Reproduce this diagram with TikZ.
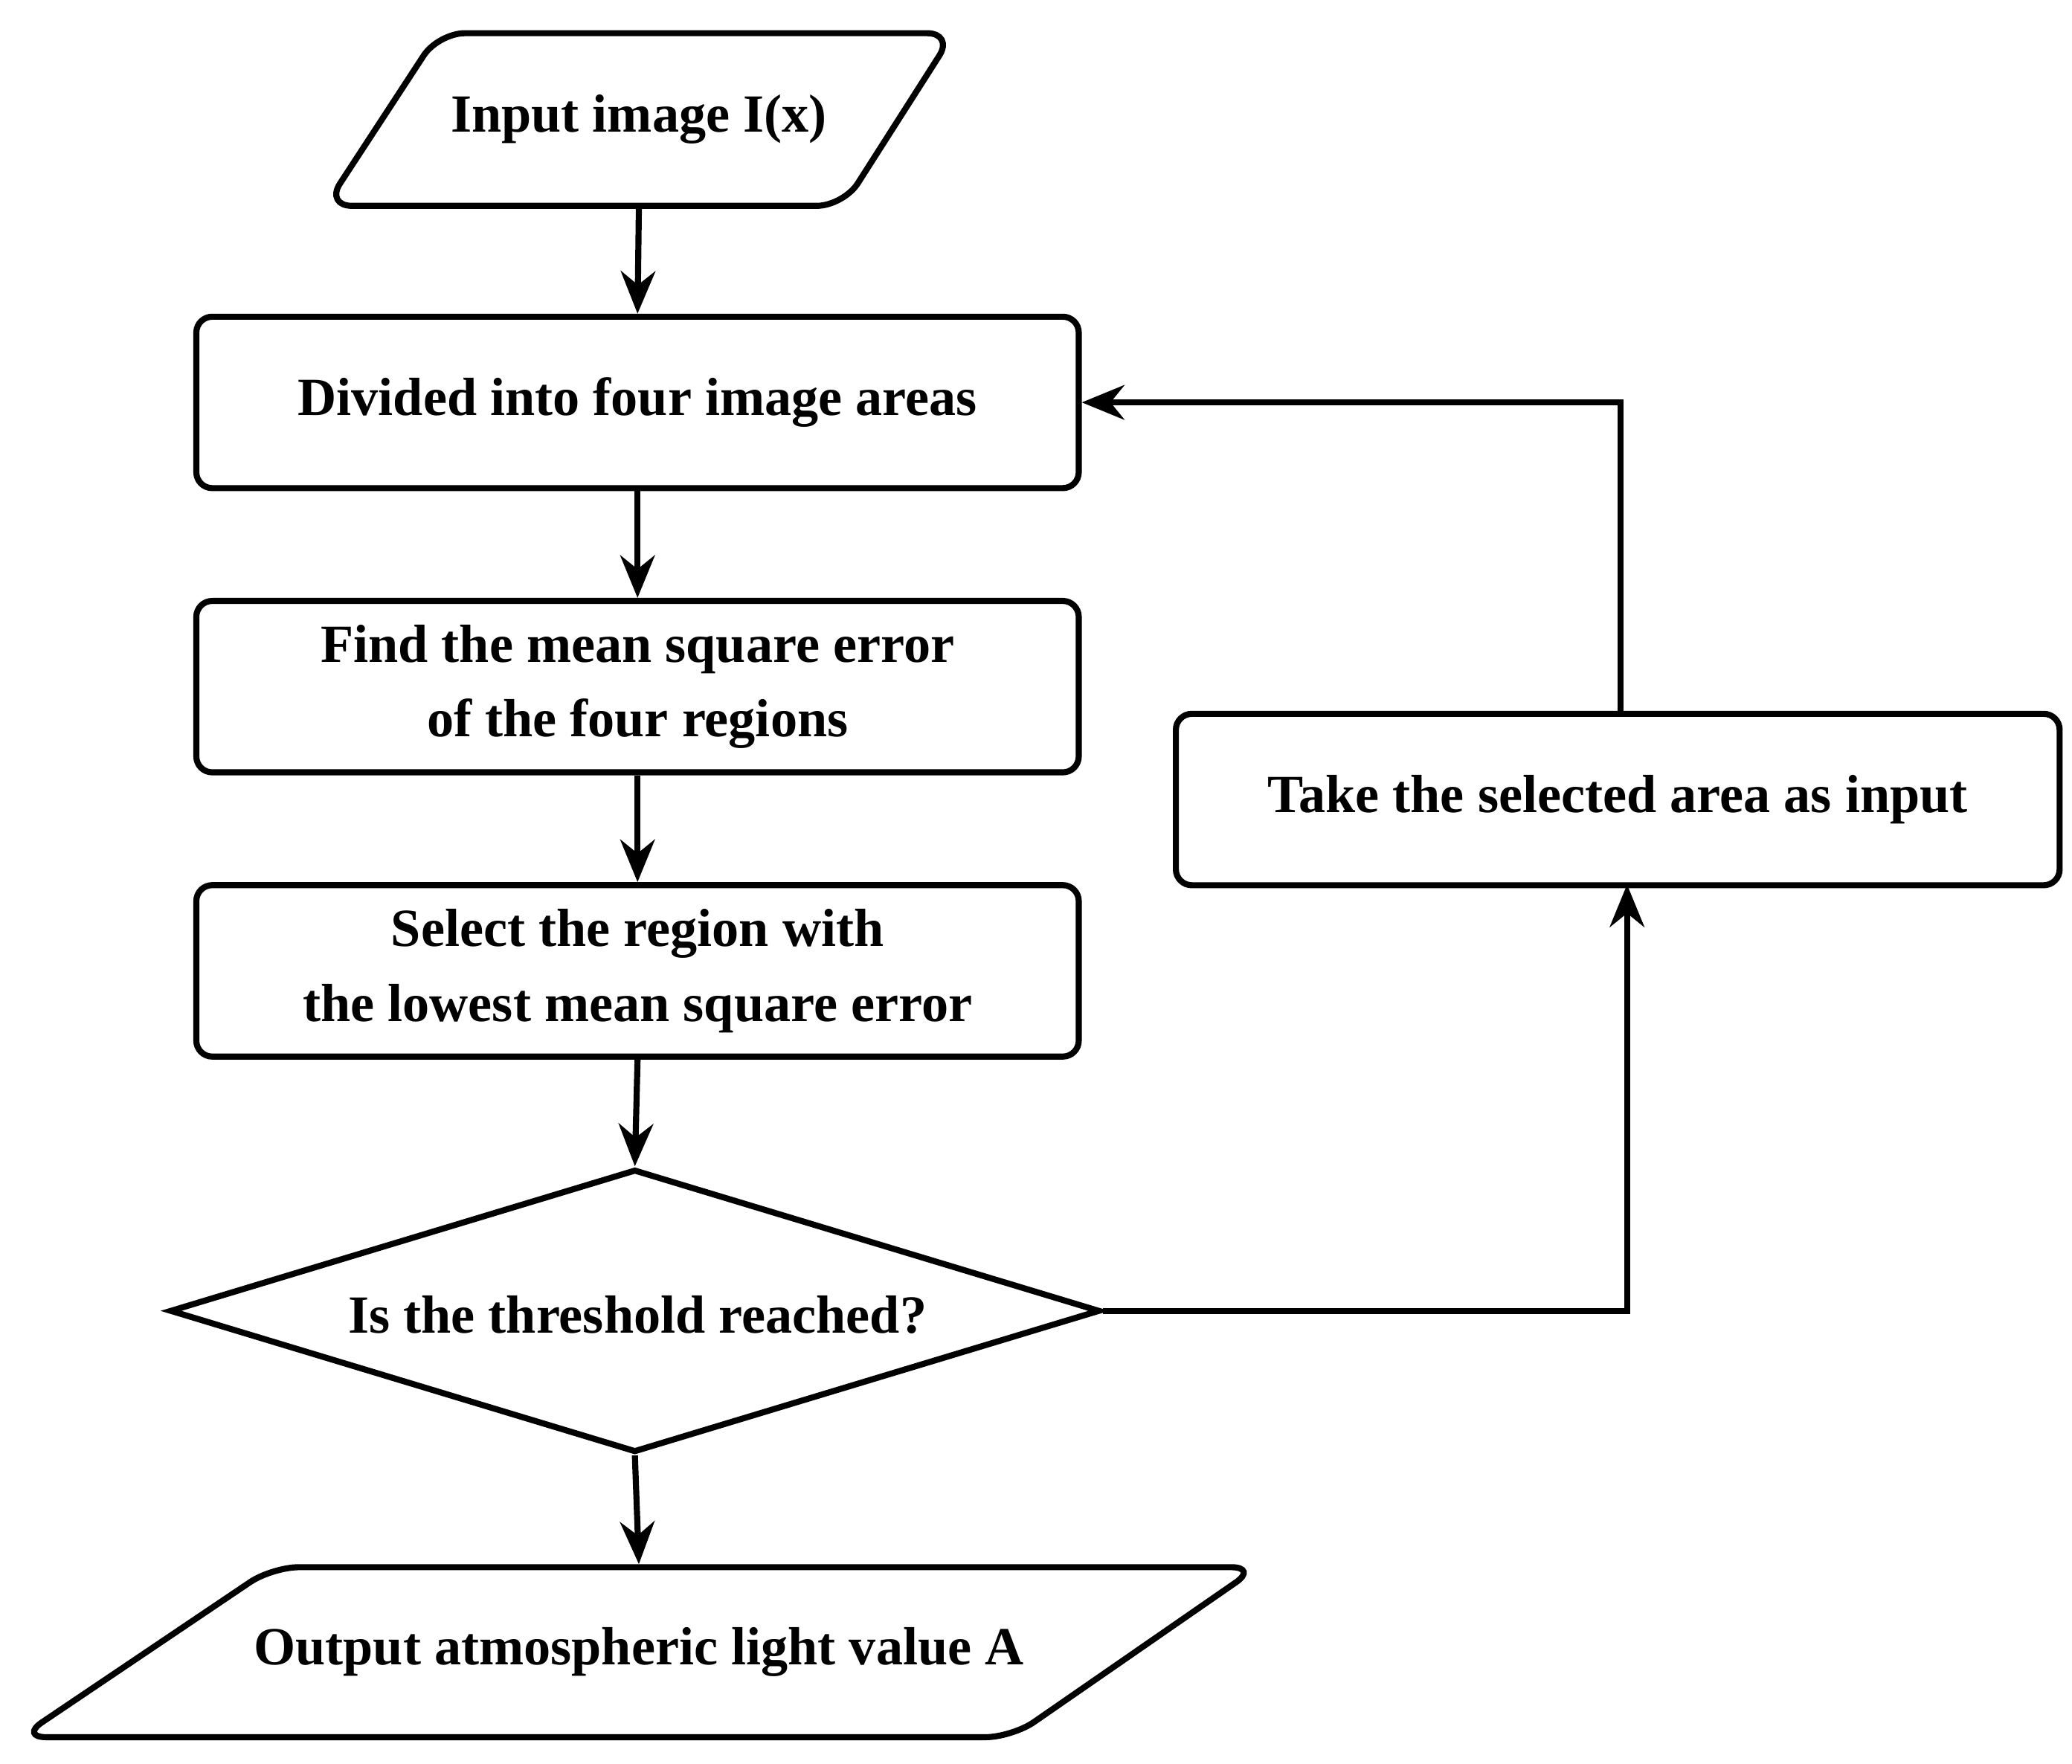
\documentclass[tikz,border=0pt]{standalone}
\usepackage{fontspec}
\setmainfont{Liberation Serif}
\usetikzlibrary{arrows.meta,shapes.geometric}
\begin{document}
\begin{tikzpicture}[x=0.01cm,y=-0.01cm,
  line width=1.3pt,
  txt/.style={font=\fontsize{11.5pt}{16pt}\selectfont\bfseries,align=center},
  box/.style={draw,rounded corners=0.12cm,txt,minimum width=6.64cm,minimum height=1.29cm,inner sep=0pt},
  arr/.style={-{Stealth[length=0.32cm,width=0.26cm]}}]
\useasboundingbox (0,0) rectangle (1560,1328);
% input parallelogram
\draw[rounded corners=0.2cm] (330,25) -- (718,25) -- (635,155) -- (245,155) -- cycle;
\node[txt,minimum width=3.9cm,minimum height=1.3cm,inner sep=0pt] (in) at (481,90) {Input image I(x)};
\node[box] (b1) at (480,303) {Divided into four image areas};
\node[box] (b2) at (480,517) {Find the mean square error\\of the four regions};
\node[box] (b3) at (480,731) {Select the region with\\the lowest mean square error};
\node[draw,diamond,aspect=3.28,minimum width=7.0cm,minimum height=2.13cm,inner sep=0pt,txt] (d) at (478,987) {};
\node[txt] at (480,990) {Is the threshold reached?};
\node[box,minimum width=6.65cm] (r) at (1218,602) {Take the selected area as input};
% output parallelogram
\draw[rounded corners=0.2cm] (205,1180) -- (947,1180) -- (762,1308) -- (15,1308) -- cycle;
\node[txt,minimum width=5.6cm,minimum height=1.28cm,inner sep=0pt] (out) at (481,1244) {Output atmospheric light value A};
% arrows
\draw[arr] (in.south) -- (b1.north);
\draw[arr] (b1.south) -- (b2.north);
\draw[arr] (b2.south) -- (b3.north);
\draw[arr] (b3.south) -- (d.north);
\draw[arr] (d.south) -- (out.north);
\coordinate (c1) at (1225,987);
\draw[arr] (d.east) -- (c1) -- (1225,666);
\coordinate (c2) at (1220,303);
\draw[arr] (1220,538) -- (c2) -- (b1.east);
\end{tikzpicture}
\end{document}
